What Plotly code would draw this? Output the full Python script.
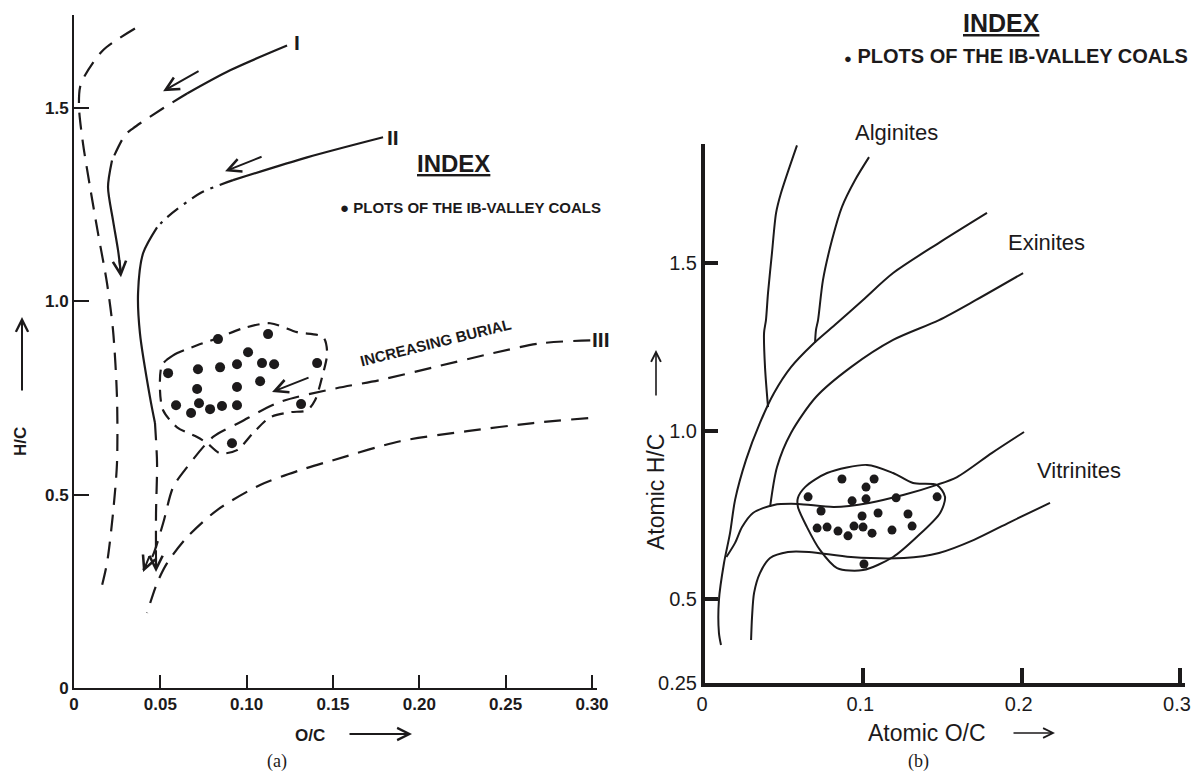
import plotly.graph_objects as go

W, H = 1192, 773
INK = "#1c1a1b"

# ================= panel (a) data: O/C vs H/C =================
a_xticks = [0, 0.05, 0.10, 0.15, 0.20, 0.25, 0.30]
a_xticktext = ["0", "0.05", "0.10", "0.15", "0.20", "0.25", "0.30"]
a_yticks = [0, 0.5, 1.0, 1.5]
a_yticktext = ["0", "0.5", "1.0", "1.5"]

# leftmost dashed band boundary
a_edge_x = [0.0353, 0.0168, 0.0064, 0.0035, 0.0029, 0.0052, 0.0093, 0.0139, 0.0191,
            0.0226, 0.0249, 0.0249, 0.0226, 0.0191, 0.0151]
a_edge_y = [1.705, 1.649, 1.584, 1.553, 1.501, 1.408, 1.295, 1.176, 1.047,
            0.925, 0.752, 0.581, 0.452, 0.323, 0.245]

# evolution path I
a_I_x = [0.1234, 0.0904, 0.0655, 0.0516, 0.0342, 0.0295, 0.0220, 0.0197, 0.0226, 0.0255, 0.0272]
a_I_y = [1.661, 1.597, 1.537, 1.499, 1.447, 1.429, 1.364, 1.295, 1.209, 1.132, 1.072]

# evolution path II
a_II_x = [0.179, 0.135, 0.0921, 0.0730, 0.0539, 0.0481, 0.0400, 0.0371, 0.0382, 0.0440,
          0.0469, 0.0481, 0.0475, 0.0475]
a_II_y = [1.424, 1.372, 1.313, 1.279, 1.217, 1.191, 1.124, 1.021, 0.917, 0.752,
          0.685, 0.581, 0.452, 0.310]

# evolution path III
a_III_x = [0.299, 0.270, 0.243, 0.208, 0.177, 0.152, 0.119, 0.0962, 0.0805, 0.0655,
           0.0574, 0.0516, 0.0452, 0.0400]
a_III_y = [0.899, 0.891, 0.866, 0.829, 0.796, 0.775, 0.739, 0.687, 0.649, 0.571,
           0.519, 0.426, 0.338, 0.305]

# lower dashed boundary
a_low_x = [0.2978, 0.2659, 0.2277, 0.1889, 0.1501, 0.1309, 0.1078, 0.0829, 0.0655,
           0.0539, 0.0481, 0.0423]
a_low_y = [0.698, 0.685, 0.664, 0.638, 0.589, 0.563, 0.525, 0.460, 0.390,
           0.323, 0.271, 0.194]

# dashed envelope of the Ib-Valley coal field
a_env_x = [0.0510, 0.0574, 0.0713, 0.0829, 0.0979, 0.1136, 0.1292, 0.1443, 0.1466, 0.1437,
           0.1396, 0.1350, 0.1251, 0.1136, 0.1037, 0.0944, 0.0846, 0.0771, 0.0713, 0.0597,
           0.0516, 0.0498, 0.0510]
a_env_y = [0.835, 0.860, 0.886, 0.904, 0.930, 0.943, 0.920, 0.907, 0.866, 0.804,
           0.744, 0.718, 0.713, 0.700, 0.659, 0.615, 0.607, 0.633, 0.649, 0.674,
           0.718, 0.770, 0.835]

# Ib-Valley coal samples (a)
a_oc = [0.0545, 0.0718, 0.0846, 0.0944, 0.1089, 0.1159, 0.1408, 0.0834, 0.1124, 0.1008, 0.0713,
        0.0944, 0.1078, 0.0591, 0.0678, 0.0724, 0.0788, 0.0857, 0.0944, 0.1315, 0.0915]
a_hc = [0.814, 0.824, 0.829, 0.837, 0.840, 0.837, 0.840, 0.902, 0.915, 0.868, 0.773,
        0.778, 0.793, 0.731, 0.711, 0.736, 0.721, 0.729, 0.731, 0.734, 0.633]

# ================= panel (b) data: Atomic O/C vs Atomic H/C =================
b_xticks = [0, 0.1, 0.2, 0.3]
b_xticktext = ["0", "0.1", "0.2", "0.3"]
b_yticks = [0.25, 0.5, 1.0, 1.5]
b_yticktext = ["0.25", "0.5", "1.0", "1.5"]

b_alg1_x = [0.0581, 0.0480, 0.0449, 0.0423, 0.0398, 0.0385, 0.0373, 0.0379, 0.0398]
b_alg1_y = [1.850, 1.708, 1.649, 1.530, 1.411, 1.330, 1.292, 1.190, 1.071]

b_alg2_x = [0.1036, 0.0948, 0.0865, 0.0802, 0.0745, 0.0714, 0.0701, 0.0695]
b_alg2_y = [1.815, 1.747, 1.667, 1.568, 1.449, 1.330, 1.301, 1.262]

b_exi1_x = [0.1781, 0.1478, 0.1188, 0.0998, 0.0834, 0.0676, 0.0543, 0.0436, 0.0347, 0.0259,
            0.0190, 0.0158, 0.0120, 0.0088, 0.0088, 0.0101]
b_exi1_y = [1.649, 1.560, 1.470, 1.390, 1.321, 1.256, 1.190, 1.113, 1.024, 0.914,
            0.795, 0.696, 0.607, 0.497, 0.399, 0.363]

b_exi2_x = [0.2009, 0.1712, 0.1478, 0.1188, 0.0922, 0.0701, 0.0543, 0.0455, 0.0411]
b_exi2_y = [1.470, 1.390, 1.330, 1.271, 1.190, 1.101, 0.994, 0.893, 0.774]

b_vit1_x = [0.2015, 0.1813, 0.1592, 0.1459, 0.1257, 0.1036, 0.0815, 0.0587, 0.0436, 0.0303,
            0.0234, 0.0190, 0.0135]
b_vit1_y = [0.997, 0.935, 0.863, 0.839, 0.810, 0.786, 0.774, 0.783, 0.780, 0.756,
            0.714, 0.667, 0.625]

b_vit2_x = [0.2179, 0.1927, 0.1699, 0.1478, 0.1257, 0.0922, 0.0657, 0.0524, 0.0411, 0.0347,
            0.0310, 0.0297, 0.0291]
b_vit2_y = [0.786, 0.729, 0.676, 0.637, 0.622, 0.625, 0.640, 0.640, 0.622, 0.577,
            0.518, 0.446, 0.378]

b_env_x = [0.0587, 0.0632, 0.0771, 0.1023, 0.1188, 0.1314, 0.1466, 0.1516, 0.1485, 0.1339,
           0.1188, 0.0998, 0.0834, 0.0726, 0.0644, 0.0587, 0.0587]
b_env_y = [0.801, 0.833, 0.875, 0.899, 0.875, 0.845, 0.839, 0.804, 0.756, 0.685,
           0.625, 0.586, 0.592, 0.646, 0.714, 0.774, 0.801]

b_oc = [0.0865, 0.1068, 0.1017, 0.0651, 0.0929, 0.1017, 0.1207, 0.1466, 0.0733, 0.0992, 0.1093,
        0.1282, 0.0708, 0.0771, 0.0840, 0.0941, 0.0998, 0.0903, 0.1055, 0.1181, 0.1308, 0.1004]
b_hc = [0.857, 0.857, 0.833, 0.804, 0.792, 0.798, 0.801, 0.804, 0.762, 0.747, 0.756,
        0.753, 0.711, 0.714, 0.702, 0.717, 0.714, 0.688, 0.696, 0.705, 0.717, 0.604]

# ================= figure =================
fig = go.Figure()

DASH_LONG = "17px,10px"
DASH_ENV = "12px,8px"
DASHDOT = "14px,7px,3px,7px"


def line(xs, ys, dash="solid", width=2.2, xa="x", ya="y"):
    fig.add_trace(go.Scatter(x=xs, y=ys, mode="lines", xaxis=xa, yaxis=ya,
                             line=dict(color=INK, width=width, dash=dash, shape="spline",
                                       smoothing=0.8),
                             hoverinfo="skip", showlegend=False))


# panel (a)
line(a_edge_x, a_edge_y, DASH_LONG)
line(a_I_x[0:3], a_I_y[0:3])
line(a_I_x[2:7], a_I_y[2:7], DASH_LONG)
line(a_I_x[6:], a_I_y[6:])
line(a_II_x[0:3], a_II_y[0:3])
line(a_II_x[2:6], a_II_y[2:6], DASHDOT)
line(a_II_x[5:11], a_II_y[5:11])
line(a_II_x[10:], a_II_y[10:], DASH_LONG)
line(a_III_x, a_III_y, DASH_LONG)
line(a_low_x, a_low_y, DASH_LONG)
line(a_env_x, a_env_y, DASH_ENV, width=2.2)
fig.add_trace(go.Scatter(x=a_oc, y=a_hc, mode="markers", xaxis="x", yaxis="y",
                         marker=dict(color=INK, size=10), hoverinfo="skip", showlegend=False))

# panel (b)
for xs, ys in [(b_alg1_x, b_alg1_y), (b_alg2_x, b_alg2_y), (b_exi1_x, b_exi1_y),
               (b_exi2_x, b_exi2_y), (b_vit1_x, b_vit1_y), (b_vit2_x, b_vit2_y),
               (b_env_x, b_env_y)]:
    line(xs, ys, "solid", width=2, xa="x2", ya="y2")
fig.add_trace(go.Scatter(x=b_oc, y=b_hc, mode="markers", xaxis="x2", yaxis="y2",
                         marker=dict(color=INK, size=9), hoverinfo="skip", showlegend=False))


def px(x, y):
    return x / W, 1 - y / H


anns = []


def text(t, x, y, size, bold=False, family="Liberation Sans", angle=0, xanchor="center"):
    X, Y = px(x, y)
    anns.append(dict(text=("<b>%s</b>" % t) if bold else t, x=X, y=Y, xref="paper", yref="paper",
                     showarrow=False, textangle=angle, xanchor=xanchor, yanchor="middle",
                     font=dict(family=family, size=size, color=INK)))


def parrow(x0, y0, x1, y1, width=2):
    X, Y = px(x1, y1)
    anns.append(dict(text="", x=X, y=Y, xref="paper", yref="paper", showarrow=True,
                     ax=x0 - x1, ay=y0 - y1, arrowhead=5, arrowsize=1.2, arrowwidth=width,
                     arrowcolor=INK))


def darrow(x0, y0, x1, y1, xa="x", ya="y"):
    anns.append(dict(text="", x=x1, y=y1, xref=xa, yref=ya, axref=xa, ayref=ya, ax=x0, ay=y0,
                     showarrow=True, arrowhead=5, arrowsize=1.3, arrowwidth=2, arrowcolor=INK))


# panel (a) texts
text("<u>INDEX</u>", 453, 163, 24, bold=True)
text("● PLOTS OF THE IB-VALLEY COALS", 338, 207, 15, bold=True, xanchor="left")
text("I", 297, 42, 21, bold=True)
text("II", 393, 137, 21, bold=True)
text("III", 601, 339, 21, bold=True)
text("INCREASING BURIAL", 435, 342, 15, bold=True, angle=-14)
text("H/C", 21, 442, 17, bold=True, angle=-90)
parrow(22, 392, 22, 317)
text("O/C", 310, 735, 17, bold=True)
parrow(348, 734, 412, 734)
text("(a)", 277, 761, 18, family="Liberation Serif")

darrow(0.0730, 1.597, 0.0516, 1.543)
darrow(0.1095, 1.375, 0.0875, 1.336)
darrow(0.0262, 1.11, 0.0272, 1.062)
darrow(0.1367, 0.804, 0.1147, 0.765)
darrow(0.0440, 0.344, 0.0400, 0.300)
darrow(0.0475, 0.36, 0.0475, 0.300)

# panel (b) texts
text("<u>INDEX</u>", 1001, 23, 25, bold=True)
text("<span style='font-size:13px'>●</span> PLOTS OF THE IB-VALLEY COALS", 1190, 56, 20,
     bold=True, xanchor="right")
text("Alginites", 896, 132, 22)
text("Exinites", 1046, 243, 22)
text("Vitrinites", 1079, 470, 22)
text("Atomic H/C", 656, 492, 23, angle=-90)
parrow(656, 397, 656, 350, width=1.6)
text("Atomic O/C", 927, 733, 23)
parrow(1012, 733, 1055, 733, width=1.6)
text("(b)", 918, 761, 18, family="Liberation Serif")

ax_common = dict(showgrid=False, zeroline=False, showline=True, linecolor=INK, ticks="inside",
                 tickcolor=INK, fixedrange=True, automargin=False, ticklabeloverflow="allow")

A_SCALE = (592 - 74) / 0.30      # px per unit O/C, panel (a)
B_SCALE = (1180 - 705) / 0.30    # px per unit O/C, panel (b)
X_END = 0.303

fig.update_layout(
    width=W, height=H, autosize=False, margin=dict(l=0, r=0, t=0, b=0, autoexpand=False),
    paper_bgcolor="white", plot_bgcolor="white", showlegend=False,
    annotations=anns,
    xaxis=dict(ax_common, domain=[74 / W, (74 + X_END * A_SCALE) / W], range=[0, X_END],
               anchor="y", linewidth=2, ticklen=13, tickwidth=2, tickvals=a_xticks,
               ticktext=a_xticktext,
               tickfont=dict(family="Liberation Sans", size=17, color=INK, weight="bold")),
    yaxis=dict(ax_common, domain=[1 - 688 / H, 1 - 15 / H], range=[0, 1.74], anchor="x",
               linewidth=2, ticklen=15, tickwidth=2, tickvals=a_yticks, ticktext=a_yticktext,
               tickfont=dict(family="Liberation Sans", size=17, color=INK, weight="bold")),
    xaxis2=dict(ax_common, domain=[705 / W, (705 + X_END * B_SCALE) / W], range=[0, X_END],
                anchor="y2", linewidth=4, ticklen=15, tickwidth=4, tickvals=b_xticks,
                ticktext=b_xticktext, ticklabelshift=-3,
                tickfont=dict(family="Liberation Sans", size=20, color=INK)),
    yaxis2=dict(ax_common, domain=[1 - 683 / H, 1 - 144 / H], range=[0.25, 1.854], anchor="x2",
                linewidth=4, ticklen=13, tickwidth=4, tickvals=b_yticks, ticktext=b_yticktext,
                tickfont=dict(family="Liberation Sans", size=20, color=INK)),
)

fig.write_html("out.html", config={"displayModeBar": False, "staticPlot": True},
               post_script="document.body.style.margin='0';"
                           "document.body.style.padding='0';"
                           "document.body.style.overflow='hidden';")
